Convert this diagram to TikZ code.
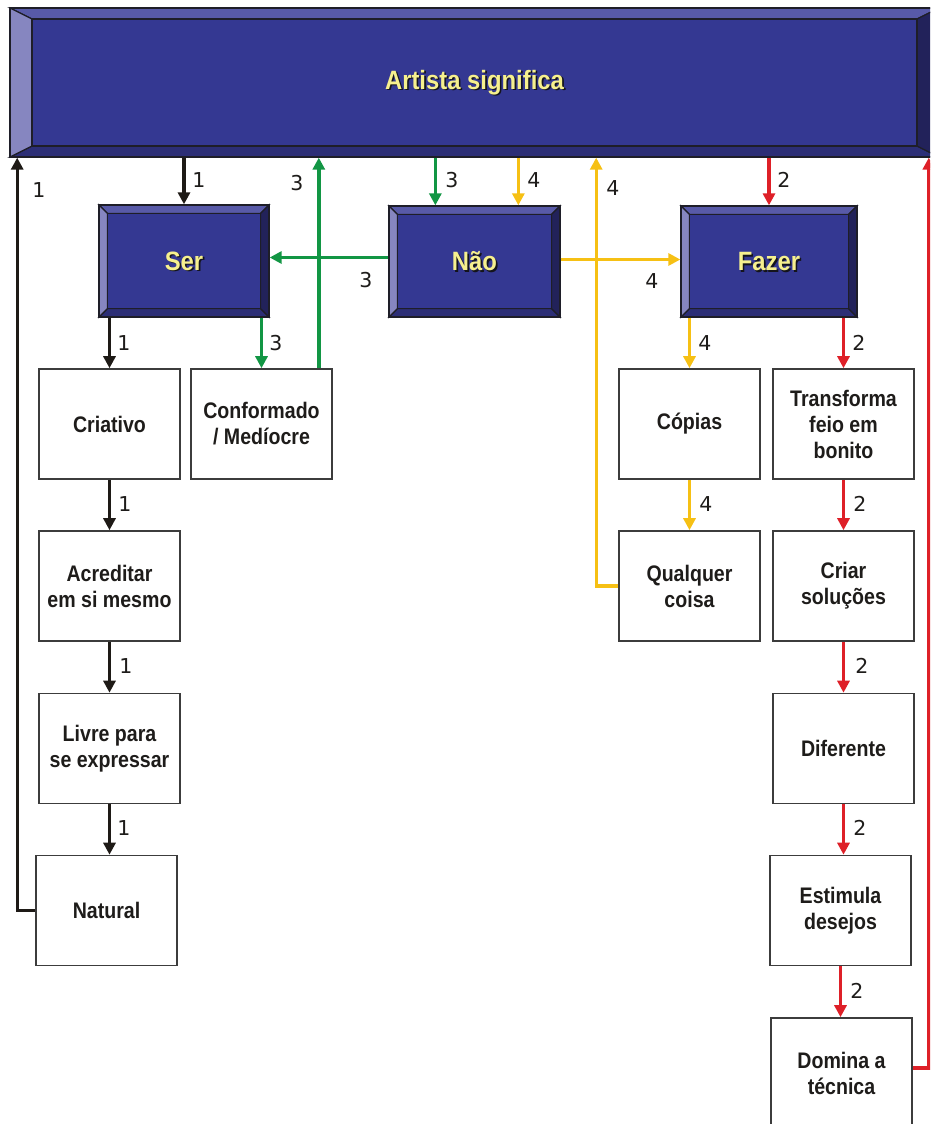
\documentclass[tikz,border=0pt]{standalone}
\usepackage{fontspec}
\usetikzlibrary{arrows.meta,calc}

\newfontfamily\boxfont[FakeStretch=0.87]{Liberation Sans Bold}
\newfontfamily\titlefont[FakeStretch=0.9]{Liberation Sans Bold}
\newfontfamily\numfont{DejaVu Sans}

\definecolor{face}{RGB}{52,56,146}
\definecolor{bevtop}{RGB}{88,90,168}
\definecolor{bevleft}{RGB}{134,134,192}
\definecolor{bevbot}{RGB}{44,46,118}
\definecolor{bevright}{RGB}{34,34,90}
\definecolor{bevedge}{RGB}{30,30,40}
\definecolor{titletext}{RGB}{246,240,142}
\definecolor{shadowtext}{RGB}{20,20,28}
\definecolor{txtdark}{RGB}{30,28,26}
\definecolor{boxedge}{RGB}{60,60,60}
\definecolor{cblack}{RGB}{30,26,22}
\definecolor{cgreen}{RGB}{18,150,68}
\definecolor{cyellow}{RGB}{246,192,20}
\definecolor{cred}{RGB}{222,32,40}

\tikzset{
  conn/.style={line width=3.4pt, -{Triangle[width=12pt,length=12pt]}},
  whitebox/.style={draw=boxedge, line width=1.6pt, fill=white,
    minimum width=141pt, minimum height=110pt, inner sep=0pt,
    align=center, text=txtdark, font=\boxfont\fontsize{22.5}{26}\selectfont},
  titletxt/.style={inner sep=0pt, font=\titlefont\fontsize{26.5}{30}\selectfont},
  lbl/.style={inner sep=0pt, text=txtdark, font=\numfont\fontsize{20.5}{21}\selectfont},
}

% bevelled title box: name, x1, y1, x2, y2, bevel x, bevel y, text
\newcommand\bevelbox[8]{%
  \begin{scope}[draw=bevedge, line width=1.3pt]
    \filldraw[fill=bevtop] (#2,#3) -- (#4,#3) -- ({#4-#6},{#3+#7}) -- ({#2+#6},{#3+#7}) -- cycle;
    \filldraw[fill=bevbot] (#2,#5) -- (#4,#5) -- ({#4-#6},{#5-#7}) -- ({#2+#6},{#5-#7}) -- cycle;
    \filldraw[fill=bevleft] (#2,#3) -- ({#2+#6},{#3+#7}) -- ({#2+#6},{#5-#7}) -- (#2,#5) -- cycle;
    \filldraw[fill=bevright] (#4,#3) -- ({#4-#6},{#3+#7}) -- ({#4-#6},{#5-#7}) -- (#4,#5) -- cycle;
    \filldraw[fill=face] ({#2+#6},{#3+#7}) rectangle ({#4-#6},{#5-#7});
  \end{scope}
  \node[titletxt, text=shadowtext] (#1s) at ({(#2+#4)/2+1.6},{(#3+#5)/2+1.6}) {#8};
  \node[titletxt, text=titletext, draw=bevedge, line width=1.3pt,
        minimum width={(#4-#2)*1pt}, minimum height={(#5-#3)*1pt}]
        (#1) at ({(#2+#4)/2},{(#3+#5)/2}) {#8};
}

\begin{document}
\begin{tikzpicture}[x=1pt, y=-1pt]
  \useasboundingbox (0,0) rectangle (930,1124);
  \clip (0,0) rectangle (930,1124);

  % title banner and the three headings
  \bevelbox{ban}{10}{8}{939}{157}{22}{11}{Artista significa}
  \bevelbox{ser}{99}{205}{269}{317}{8.5}{8.5}{Ser}
  \bevelbox{nao}{389}{206}{560}{317}{8.5}{8.5}{Não}
  \bevelbox{faz}{681}{206}{857}{317}{8.5}{8.5}{Fazer}

  % left column
  \node[whitebox] (cri) at (109.5,424) {Criativo};
  \node[whitebox] (conf) at (261.5,424) {Conformado\\/ Medíocre};
  \node[whitebox] (acr) at (109.5,586) {Acreditar\\em si mesmo};
  \node[whitebox] (liv) at (109.5,748.5) {Livre para\\se expressar};
  \node[whitebox] (nat) at (106.5,910.5) {Natural};

  % right columns
  \node[whitebox] (cop) at (689.5,424) {Cópias};
  \node[whitebox] (qual) at (689.5,586) {Qualquer\\coisa};
  \node[whitebox] (tra) at (843.5,424) {Transforma\\feio em\\bonito};
  \node[whitebox] (sol) at (843.5,586) {Criar\\soluções};
  \node[whitebox] (dif) at (843.5,748.5) {Diferente};
  \node[whitebox] (est) at (840.5,910.5) {Estimula\\desejos};
  \node[whitebox] (dom) at (841.5,1073) {Domina a\\técnica};

  % path 1 (black)
  \draw[conn, cblack] (ban.south -| ser.north) -- (ser.north);
  \draw[conn, cblack] (ser.south -| cri.north) -- (cri.north);
  \draw[conn, cblack] (cri) -- (acr);
  \draw[conn, cblack] (acr) -- (liv);
  \draw[conn, cblack] (liv.south) -- (liv.south |- nat.north);
  \draw[conn, cblack] (nat.west) -- ++(-18,0) coordinate (k1) -- (k1 |- ban.south);

  % path 3 (green)
  \coordinate (g1) at ($(nao.north west)+(47,0)$);
  \draw[conn, cgreen] (g1 |- ban.south) -- (g1);
  \draw[conn, cgreen] ($(nao.west)+(0,-4)$) coordinate (g2) -- (g2 -| ser.east);
  \draw[conn, cgreen] (ser.south -| conf.north) -- (conf.north);
  \coordinate (g3) at ($(conf.north east)+(-14,0)$);
  \draw[conn, cgreen] (g3) -- (g3 |- ban.south);

  % path 4 (yellow)
  \coordinate (y1) at ($(nao.north west)+(130,0)$);
  \draw[conn, cyellow] (y1 |- ban.south) -- (y1);
  \draw[conn, cyellow] ($(nao.east)+(0,-2)$) coordinate (y2) -- (y2 -| faz.west);
  \draw[conn, cyellow] (faz.south -| cop.north) -- (cop.north);
  \draw[conn, cyellow] (cop) -- (qual);
  \draw[conn, cyellow] (qual.west) -- ++(-22,0) coordinate (y3) -- (y3 |- ban.south);

  % path 2 (red)
  \draw[conn, cred] (ban.south -| faz.north) -- (faz.north);
  \draw[conn, cred] (faz.south -| tra.north) -- (tra.north);
  \draw[conn, cred] (tra) -- (sol);
  \draw[conn, cred] (sol) -- (dif);
  \draw[conn, cred] (dif.south) -- (dif.south |- est.north);
  \draw[conn, cred] (est.south) -- (est.south |- dom.north);
  \draw[conn, cred] ($(dom.east)+(0,-5)$) -- ++(16,0) coordinate (r1) -- (r1 |- ban.south);

  % step numbers
  \node[lbl] (l1a) at (199,180) {1};
  \node[lbl] (l1b) at (124,343) {1};
  \node[lbl] (l1c) at (125,504) {1};
  \node[lbl] (l1d) at (126,666) {1};
  \node[lbl] (l1e) at (124,828) {1};
  \node[lbl] (l1f) at (39,190) {1};

  \node[lbl] (l3a) at (452,180) {3};
  \node[lbl] (l3b) at (366,280) {3};
  \node[lbl] (l3c) at (276,343) {3};
  \node[lbl] (l3d) at (297,183) {3};

  \node[lbl] (l4a) at (534,180) {4};
  \node[lbl] (l4b) at (652,281) {4};
  \node[lbl] (l4c) at (705,343) {4};
  \node[lbl] (l4d) at (706,504) {4};
  \node[lbl] (l4e) at (613,188) {4};

  \node[lbl] (l2a) at (784,180) {2};
  \node[lbl] (l2b) at (859,343) {2};
  \node[lbl] (l2c) at (860,504) {2};
  \node[lbl] (l2d) at (862,666) {2};
  \node[lbl] (l2e) at (860,828) {2};
  \node[lbl] (l2f) at (857,991) {2};
\end{tikzpicture}
\end{document}
